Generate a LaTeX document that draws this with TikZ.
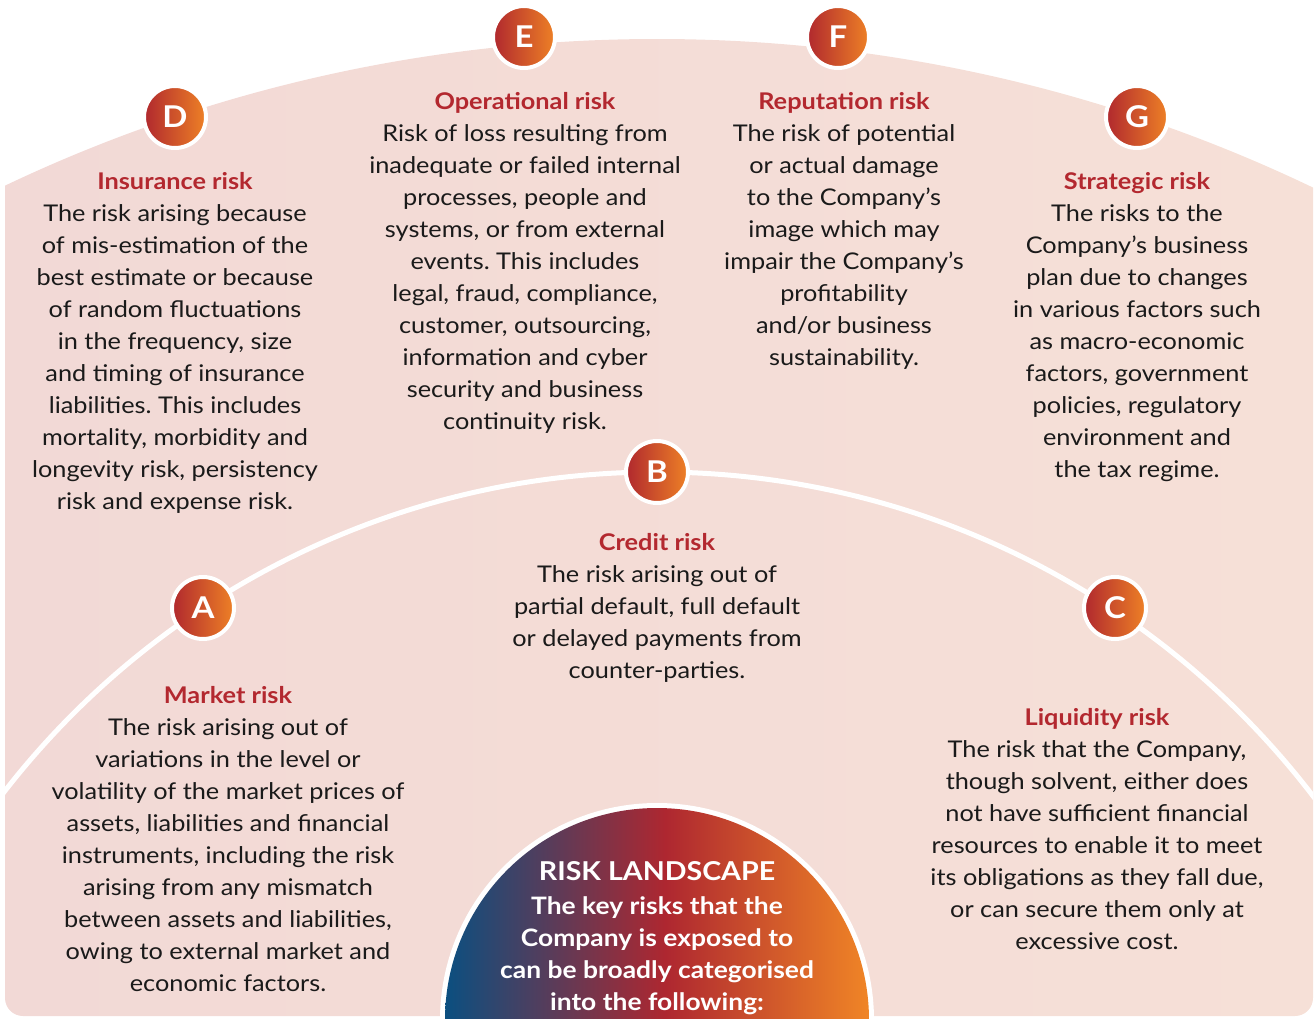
\documentclass[tikz,border=0pt]{standalone}
\usepackage{fontspec}
\setmainfont{Lato}[FakeStretch=1.1]
\frenchspacing
\definecolor{pinkL}{HTML}{F2D9D6}
\definecolor{pinkR}{HTML}{F6E0D7}
\definecolor{ttl}{HTML}{B3282F}
\definecolor{bodyc}{HTML}{1A1A1A}
\definecolor{bdgL}{HTML}{B0282E}
\definecolor{bdgR}{HTML}{EE8126}
\definecolor{lsBlue}{HTML}{0B4F80}
\definecolor{lsRed}{HTML}{AE2730}
\definecolor{lsOrg}{HTML}{F08526}
\pgfdeclarehorizontalshading{landscape}{100bp}{color(0bp)=(lsBlue); color(25bp)=(lsBlue); color(51bp)=(lsRed); color(75bp)=(lsOrg); color(100bp)=(lsOrg)}
\tikzset{
  txt/.style={align=center, font=\frenchspacing\fontsize{23}{32}\selectfont, text=bodyc, inner sep=0pt, anchor=base},
  badge/.style={circle, draw=white, line width=4pt, left color=bdgL, right color=bdgR,
    minimum size=62pt, inner sep=0pt, text=white, font=\fontsize{30}{30}\selectfont\bfseries},
  arcline/.style={draw=white, line width=5pt},
}
\newcommand{\ttlx}[1]{\textcolor{ttl}{\bfseries #1}}
\begin{document}
\begin{tikzpicture}[x=1pt,y=-1pt]
\useasboundingbox (0,0) rectangle (1315,1018);
\clip (0,0) rectangle (1315,1018);
% pink background
\begin{scope}
  \clip (657,1558) circle (1519);
  \shade[left color=pinkL, right color=pinkR, rounded corners=18pt] (5,0) rectangle (1313,1016);
\end{scope}
% inner white arc
\begin{scope}
  \clip (5,0) rectangle (1313,1016);
  \draw[arcline] (657,1298) circle (826);
\end{scope}
% center semicircle
\fill[white] (657,1020) circle (217);
\shade[shading=landscape] (657,1020) circle (212);
% badges
\node[badge] (bD) at (175,117) {D};
\node[badge] (bE) at (524,37) {E};
\node[badge] (bF) at (838,37) {F};
\node[badge] (bG) at (1137,117) {G};
\node[badge] (bB) at (657,472) {B};
\node[badge] (bA) at (203,608) {A};
\node[badge] (bC) at (1115,608) {C};
% texts (anchor = baseline of last line)
\node[txt] (tD) at (175,509) {\ttlx{Insurance risk}\\The risk arising because\\of mis-estimation of the\\best estimate or because\\of random fluctuations\\in the frequency, size\\and timing of insurance\\liabilities. This includes\\mortality, morbidity and\\longevity risk, persistency\\risk and expense risk.};
\node[txt] (tE) at (525,429) {\ttlx{Operational risk}\\Risk of loss resulting from\\inadequate or failed internal\\processes, people and\\systems, or from external\\events. This includes\\legal, fraud, compliance,\\customer, outsourcing,\\information and cyber\\security and business\\continuity risk.};
\node[txt] (tF) at (844,365) {\ttlx{Reputation risk}\\The risk of potential\\or actual damage\\to the Company’s\\image which may\\impair the Company’s\\profitability\\and/or business\\sustainability.};
\node[txt] (tG) at (1137,477) {\ttlx{Strategic risk}\\The risks to the\\Company’s business\\plan due to changes\\in various factors such\\as macro-economic\\factors, government\\policies, regulatory\\environment and\\the tax regime.};
\node[txt] (tB) at (657,678) {\ttlx{Credit risk}\\The risk arising out of\\partial default, full default\\or delayed payments from\\counter-parties.};
\node[txt] (tA) at (228,991) {\ttlx{Market risk}\\The risk arising out of\\variations in the level or\\volatility of the market prices of\\assets, liabilities and financial\\instruments, including the risk\\arising from any mismatch\\between assets and liabilities,\\owing to external market and\\economic factors.};
\node[txt] (tC) at (1097,949) {\ttlx{Liquidity risk}\\The risk that the Company,\\though solvent, either does\\not have sufficient financial\\resources to enable it to meet\\its obligations as they fall due,\\or can secure them only at\\excessive cost.};
\node[txt, text=white, font=\fontsize{24}{32}\selectfont\bfseries] (tL) at (657,1010) {{\fontsize{26}{26}\selectfont RISK LANDSCAPE}\\[2pt]The key risks that the\\Company is exposed to\\can be broadly categorised\\into the following:};
\end{tikzpicture}
\end{document}
